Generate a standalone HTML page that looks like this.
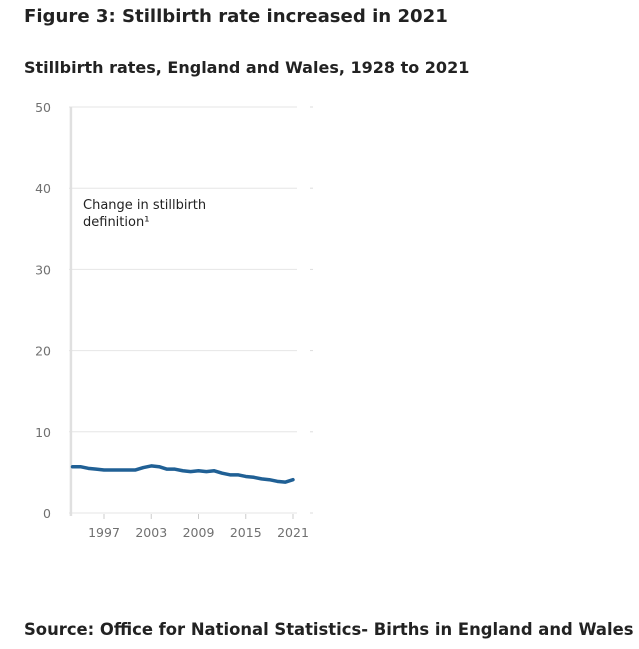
<!DOCTYPE html>
<html><head><meta charset="utf-8"><style>
body{margin:0;width:639px;height:649px;background:#fff;font-family:"DejaVu Sans",sans-serif;overflow:hidden;position:relative}
h1{position:absolute;left:24px;top:6px;margin:0;font-size:18.1px;font-weight:bold;color:#222;white-space:nowrap}
h2{position:absolute;left:24px;top:58px;margin:0;font-size:16px;font-weight:bold;color:#222;white-space:nowrap}
.src{position:absolute;left:24px;top:620px;font-size:16.4px;font-weight:bold;color:#222;white-space:nowrap}
</style></head><body>
<h1>Figure 3: Stillbirth rate increased in 2021</h1>
<h2>Stillbirth rates, England and Wales, 1928 to 2021</h2>
<svg id="c" width="639" height="600" style="position:absolute;left:0;top:0"></svg>
<div class="src">Source: Office for National Statistics- Births in England and Wales</div>
<script>
const years=[1993,1994,1995,1996,1997,1998,1999,2000,2001,2002,2003,2004,2005,2006,2007,2008,2009,2010,2011,2012,2013,2014,2015,2016,2017,2018,2019,2020,2021];
const rates=[5.7,5.7,5.5,5.4,5.3,5.3,5.3,5.3,5.3,5.6,5.8,5.7,5.4,5.4,5.2,5.1,5.2,5.1,5.2,4.9,4.7,4.7,4.5,4.4,4.2,4.1,3.9,3.8,4.1];
const yTicks=[0,10,20,30,40,50];
const xTicks=[1997,2003,2009,2015,2021];
const NS="http://www.w3.org/2000/svg",svg=document.getElementById('c');
const x=v=>104+(v-1997)*7.875, y=v=>513-v*8.12;
function mk(t,a){const e=document.createElementNS(NS,t);for(const k in a)e.setAttribute(k,a[k]);svg.appendChild(e);return e;}
yTicks.forEach(t=>{
 const g=mk('line',{x1:69,x2:297,y1:y(t),y2:y(t),stroke:'#e6e6e6','stroke-width':1});
 
 
 const m=mk('line',{x1:310,x2:313,y1:y(t),y2:y(t),stroke:'#ddd'});
 
 
 const l=mk('text',{x:51,y:y(t)+5,'text-anchor':'end','font-size':12.5,fill:'#707070'});l.textContent=t;
 
 
});
const v=mk('line',{x1:x(1992.8),x2:x(1992.8),y1:107,y2:516,stroke:'#e0e0e0','stroke-width':2.5});


const a=mk('text',{x:83,y:209,'font-size':13,fill:'#222'});


a.innerHTML='<tspan x="83">Change in stillbirth</tspan><tspan x="83" dy="17">definition¹</tspan>';
xTicks.forEach(t=>{
 const m=mk('line',{x1:x(t),x2:x(t),y1:514,y2:519,stroke:'#ccc'});
 
 
 const l=mk('text',{x:x(t),y:537,'text-anchor':'middle','font-size':12.5,fill:'#707070'});l.textContent=t;
 
 
});
const p=mk('path',{d:years.map((yr,i)=>(i?'L':'M')+x(yr)+','+y(rates[i])).join(''),fill:'none',stroke:'#206095','stroke-width':3.5,'stroke-linejoin':'round','stroke-linecap':'round'});


</script>
</body></html>
